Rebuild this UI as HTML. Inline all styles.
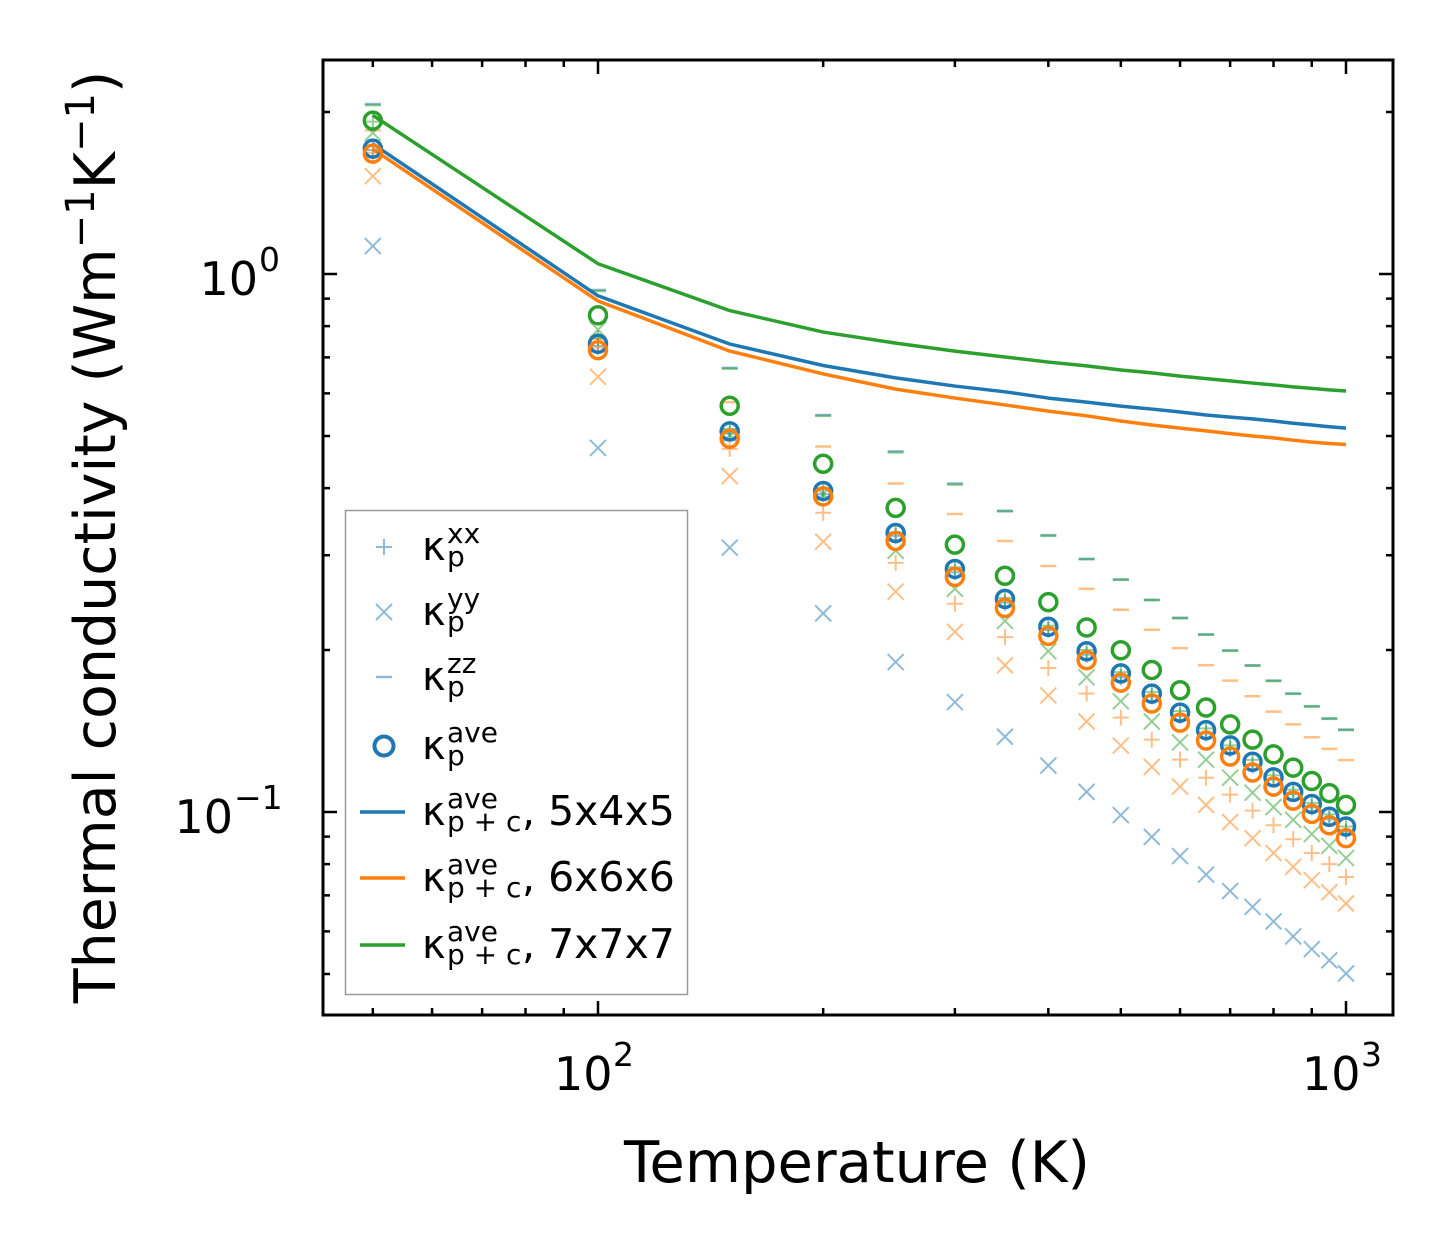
<!DOCTYPE html>
<html><head><meta charset="utf-8"><style>
html,body{margin:0;padding:0;background:#fff;}
svg{display:block;font-family:"DejaVu Sans","Liberation Sans",sans-serif;}
</style></head><body>
<svg id="chart" width="1454" height="1254" viewBox="0 0 1454 1254" xmlns="http://www.w3.org/2000/svg">
<rect width="1454" height="1254" fill="#fff"/>
<g id="marks"></g>
<g id="axes"></g>
<g id="legend"></g>
</svg>
<script>
const temps = [50,100,150,200,250,300,350,400,450,500,550,600,650,700,750,800,850,900,950,1000];
// 5x4x5 (blue)
const blueAve = [1.71,0.742,0.510,0.395,0.330,0.283,0.249,0.221,0.199,0.181,0.166,0.153,0.142,0.133,0.124,0.116,0.109,0.1035,0.098,0.094];
const blueXX  = [1.70,0.735,0.505,0.390,0.326,0.279,0.245,0.218,0.196,0.178,0.164,0.151,0.140,0.131,0.122,0.115,0.108,0.102,0.097,0.092];
const blueYY  = [1.127,0.475,0.310,0.234,0.190,0.160,0.138,0.122,0.109,0.0987,0.0899,0.0828,0.0765,0.0713,0.0666,0.0626,0.0587,0.0556,0.053,0.0501];
const blueZZ  = [2.07,0.934,0.669,0.547,0.468,0.408,0.363,0.327,0.2955,0.2707,0.248,0.2296,0.2139,0.1997,0.1874,0.1755,0.1661,0.1573,0.1493,0.1423];
const blueLine= [1.745,0.911,0.741,0.676,0.641,0.619,0.604,0.588,0.578,0.568,0.561,0.554,0.547,0.542,0.538,0.533,0.528,0.524,0.520,0.517];
// 6x6x6 (orange)
const orangeAve = [1.674,0.722,0.494,0.386,0.319,0.2735,0.2395,0.2125,0.1916,0.174,0.1591,0.1466,0.1358,0.1268,0.1184,0.1115,0.105,0.0992,0.0945,0.0894];
const orangeXX  = [1.68,0.73,0.473,0.36,0.2904,0.2438,0.2114,0.1852,0.1661,0.1498,0.1363,0.1251,0.1158,0.1077,0.1006,0.0945,0.089,0.0839,0.080,0.0757];
const orangeYY  = [1.52,0.644,0.421,0.318,0.2567,0.2162,0.1874,0.1647,0.1473,0.1329,0.1213,0.1115,0.1031,0.0958,0.0894,0.0839,0.0791,0.0747,0.0709,0.0676];
const orangeZZ  = [1.85,0.758,0.578,0.478,0.408,0.358,0.319,0.2866,0.260,0.2376,0.2181,0.2017,0.1874,0.1755,0.1641,0.1537,0.1455,0.1377,0.131,0.1249];
const orangeLine= [1.707,0.891,0.719,0.652,0.611,0.588,0.571,0.556,0.545,0.533,0.524,0.517,0.511,0.505,0.500,0.496,0.491,0.487,0.484,0.482];
// 7x7x7 (green)
const greenAve = [1.928,0.838,0.569,0.444,0.3675,0.314,0.2749,0.2455,0.2203,0.1998,0.1836,0.1684,0.1564,0.1455,0.1363,0.128,0.1209,0.1142,0.1084,0.1031];
const greenXX  = [1.92,0.76,0.515,0.398,0.331,0.285,0.250,0.222,0.200,0.182,0.167,0.154,0.143,0.133,0.125,0.117,0.110,0.104,0.099,0.094];
const greenYY  = [1.83,0.788,0.502,0.390,0.3059,0.260,0.2265,0.199,0.178,0.1606,0.1473,0.1347,0.1251,0.1158,0.1086,0.1021,0.0967,0.091,0.0865,0.0821];
const greenZZ  = [2.06,0.93,0.667,0.545,0.466,0.406,0.362,0.326,0.295,0.270,0.2475,0.229,0.2135,0.1993,0.187,0.1752,0.1658,0.157,0.149,0.142];
const greenLine= [1.972,1.045,0.855,0.780,0.744,0.719,0.701,0.686,0.675,0.663,0.655,0.646,0.639,0.633,0.627,0.622,0.617,0.613,0.609,0.606];
const xMajorTicks = [100,1000];
const xMajorLabels = ["2","3"];
const yMajorTicks = [1,0.1];
const yMajorLabels = ["0","\u22121"];

const NS="http://www.w3.org/2000/svg";
const L=323,R=1393,T=60,B=1015;
function xs(t){return 598+(Math.log10(t)-2)*748;}
function ys(v){return 274-Math.log10(v)*538;}
function mk(tag,attrs,parent){const e=document.createElementNS(NS,tag);for(const k in attrs)e.setAttribute(k,attrs[k]);parent.appendChild(e);return e;}
const C={blue:"#1f77b4",orange:"#ff7f0e",green:"#2ca02c"};
const marks=document.getElementById('marks');

function drawMarker(kind,x,y,color,op,g){
  let e;
  if(kind==='plus'){e=mk('path',{d:`M${x-8},${y}H${x+8}M${x},${y-8}V${y+8}`,stroke:color,'stroke-width':2,'stroke-opacity':op,fill:'none'},g);}
  else if(kind==='x'){e=mk('path',{d:`M${x-8},${y-8}L${x+8},${y+8}M${x-8},${y+8}L${x+8},${y-8}`,stroke:color,'stroke-width':2,'stroke-opacity':op,fill:'none'},g);}
  else if(kind==='dash'){e=mk('path',{d:`M${x-8},${y}H${x+8}`,stroke:color,'stroke-width':2.5,'stroke-opacity':op,fill:'none'},g);}
  else {e=mk('circle',{cx:x,cy:y,r:8.5,stroke:color,'stroke-width':3.5,fill:'none'},g);}
  return e;
}
const series=[
 ['blue','plus',blueXX,0.5],['blue','x',blueYY,0.5],['blue','dash',blueZZ,0.5],
 ['orange','plus',orangeXX,0.5],['orange','x',orangeYY,0.5],['orange','dash',orangeZZ,0.5],
 ['green','plus',greenXX,0.5],['green','x',greenYY,0.5],['green','dash',greenZZ,0.5],
];
series.forEach(s=>{
  const g=mk('g',{},marks);
  
  
  s[2].forEach((v,i)=>{const e=drawMarker(s[1],xs(temps[i]),ys(v),C[s[0]],s[3],g);
    
    });
});
[['blue',blueLine],['orange',orangeLine],['green',greenLine]].forEach(s=>{
  const p=mk('polyline',{points:s[1].map((v,i)=>xs(temps[i])+','+ys(v)).join(' '),fill:'none',stroke:C[s[0]],'stroke-width':3.5,'stroke-linejoin':'round'},marks);
  
  
});
[['blue',blueAve],['orange',orangeAve],['green',greenAve]].forEach(s=>{
  const g=mk('g',{},marks);
  
  
  s[1].forEach((v,i)=>{const e=drawMarker('o',xs(temps[i]),ys(v),C[s[0]],1,g);
    
    });
});

// axes
const ax=document.getElementById('axes');
const frame=mk('rect',{x:L,y:T,width:R-L,height:B-T,fill:'none',stroke:'#000','stroke-width':3},ax);


let td='';
for(let d=1;d<=3;d++){for(let m=1;m<10;m++){const t=m*Math.pow(10,d);const x=xs(t);if(x<L||x>R)continue;const len=m===1?14:7;td+=`M${x},${B}V${B-len}M${x},${T}V${T+len}`;}}
for(let d=-2;d<=1;d++){for(let m=1;m<10;m++){const v=m*Math.pow(10,d);const y=ys(v);if(y<T||y>B)continue;const len=m===1?14:7;td+=`M${L},${y}H${L+len}M${R},${y}H${R-len}`;}}
const ticks=mk('path',{d:td,stroke:'#000','stroke-width':2.5,fill:'none'},ax);


xMajorTicks.forEach((t,i)=>{const x=xs(t);
  const tx=mk('text',{x:x-44,y:1090,'font-size':46,fill:'#000'},ax);tx.textContent='10';
  
  
  const sp=mk('text',{x:x+15,y:1066,'font-size':33,fill:'#000'},ax);sp.textContent=xMajorLabels[i];
  
  
});
yMajorTicks.forEach((v,i)=>{const y=ys(v);
  const end=i===0?258:233;
  const tx=mk('text',{x:end,y:y+21,'font-size':46,fill:'#000','text-anchor':'end'},ax);tx.textContent='10';
  
  
  const sp=mk('text',{x:end+1,y:y-3,'font-size':33,fill:'#000'},ax);sp.textContent=yMajorLabels[i];
  
  
});
const xt=mk('text',{x:857,y:1182,'font-size':57,'text-anchor':'middle',fill:'#000',textLength:466,lengthAdjust:'spacingAndGlyphs'},ax);xt.textContent='Temperature (K)';


const yt=mk('text',{x:0,y:0,'font-size':57,'text-anchor':'middle',fill:'#000',transform:'translate(115,537) rotate(-90)'},ax);
yt.innerHTML='Thermal conductivity (Wm<tspan dy="-21" font-size="40">\u22121</tspan><tspan dy="21">K</tspan><tspan dy="-21" font-size="40">\u22121</tspan><tspan dy="21">)</tspan>';



// legend
const lg=document.getElementById('legend');
const box=mk('rect',{x:345.5,y:510.5,width:342,height:484,fill:'#fff','fill-opacity':0.8,stroke:'#999','stroke-width':1.5},lg);


const entries=[
 ['plus','blue','xx','p',''],['x','blue','yy','p',''],['dash','blue','zz','p',''],['o','blue','ave','p',''],
 ['line','blue','ave','p + c',', 5x4x5'],['line','orange','ave','p + c',', 6x6x6'],['line','green','ave','p + c',', 7x7x7']];
const rows=[547,612,677,746,812,878,945];
entries.forEach((e,i)=>{
  const g=mk('g',{},lg);
  
  
  const y=rows[i];
  if(e[0]==='line'){mk('line',{x1:360,y1:y,x2:405,y2:y,stroke:C[e[1]],'stroke-width':3.5},g);}
  else if(e[0]==='o'){mk('circle',{cx:384,cy:y,r:9.5,stroke:C[e[1]],'stroke-width':4,fill:'none'},g);}
  else drawMarker(e[0],384,y,C[e[1]],0.5,g);
  const k=mk('text',{x:422,y:y+13,'font-size':40,fill:'#000'},g);k.textContent='\u03ba';
  const sp=mk('text',{x:447,y:y-4,'font-size':28,fill:'#000'},g);sp.textContent=e[2];
  const sb=mk('text',{x:447,y:y+19,'font-size':28,fill:'#000'},g);sb.textContent=e[3];
  if(e[4]){const r=mk('text',{x:522,y:y+13,'font-size':41,fill:'#000'},g);r.textContent=e[4];}
});
</script>
</body></html>
